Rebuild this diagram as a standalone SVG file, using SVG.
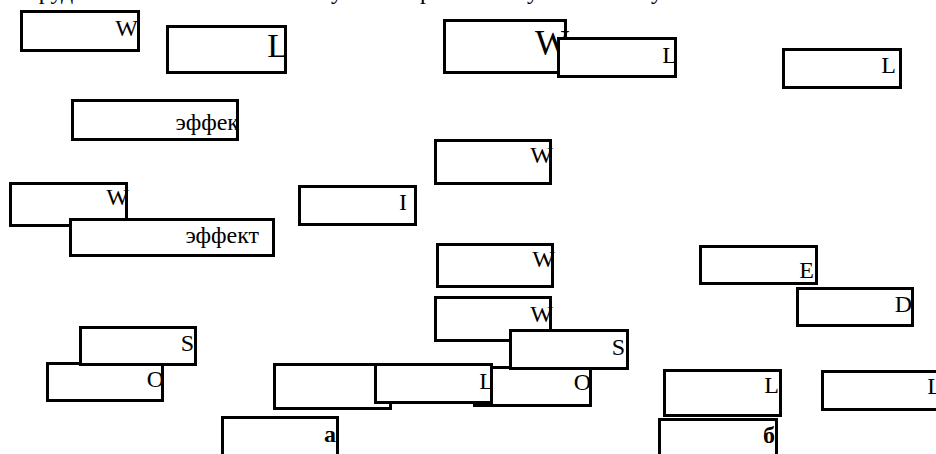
<svg xmlns="http://www.w3.org/2000/svg" width="936" height="454" viewBox="0 0 936 454">
<style>
.b{fill:#fff;stroke:#000;stroke-width:3}
.t{font-family:"Liberation Serif","Times New Roman",serif;font-size:24px;fill:#000;text-anchor:end}
.bold{font-weight:bold}
.top{font-family:"Liberation Serif","Times New Roman",serif;font-size:24px;fill:#000}
</style>
<rect width="936" height="454" fill="#fff"/>
<text class="top" y="-1"><tspan x="28">трудно</tspan><tspan x="331">учесть</tspan><tspan x="420">рост</tspan><tspan x="527">уже</tspan><tspan x="651">успех</tspan></text>
<g id="connectors"></g>
<g id="n1"><rect class="b" x="21.5" y="11.5" width="117" height="39"/><text class="t" x="138" y="36">W</text></g>
<g id="n2"><rect class="b" x="167.5" y="26.5" width="118" height="46"/><text class="t" x="288" y="57" style="font-size:34px">L</text></g>
<g id="n3"><rect class="b" x="444.5" y="20.5" width="121" height="52"/><text class="t" x="569" y="55" style="font-size:36px">W</text></g>
<g id="n4"><rect class="b" x="558.5" y="38.5" width="117" height="38"/><text class="t" x="677" y="63">L</text></g>
<g id="n5"><rect class="b" x="783.5" y="49.5" width="117" height="38"/><text class="t" x="896" y="73">L</text></g>
<g id="n6"><rect class="b" x="72.5" y="100.5" width="165" height="39"/><text class="t" x="239" y="130">эффек</text></g>
<g id="n7"><rect class="b" x="10.5" y="183.5" width="116" height="42"/><text class="t" x="129" y="205">W</text></g>
<g id="n8"><rect class="b" x="70.5" y="219.5" width="203" height="36"/><text class="t" x="259" y="243">эффект</text></g>
<g id="n9"><rect class="b" x="299.5" y="186.5" width="116" height="38"/><text class="t" x="407" y="210">I</text></g>
<g id="n10"><rect class="b" x="435.5" y="140.5" width="115" height="43"/><text class="t" x="553" y="163">W</text></g>
<g id="n11"><rect class="b" x="437.5" y="244.5" width="115" height="42"/><text class="t" x="555" y="267">W</text></g>
<g id="n12"><rect class="b" x="435.5" y="297.5" width="115" height="43"/><text class="t" x="553" y="322">W</text></g>
<g id="n13"><rect class="b" x="700.5" y="246.5" width="116" height="37"/><text class="t" x="814" y="278">E</text></g>
<g id="n14"><rect class="b" x="797.5" y="288.5" width="115" height="37"/><text class="t" x="912" y="312">D</text></g>
<g id="n16"><rect class="b" x="47.5" y="363.5" width="115" height="37"/><text class="t" x="164" y="387">O</text></g>
<g id="n15"><rect class="b" x="80.5" y="327.5" width="115" height="37"/><text class="t" x="194" y="351">S</text></g>
<g id="n17"><rect class="b" x="274.5" y="364.5" width="116" height="44"/></g>
<g id="n19"><rect class="b" x="474.5" y="367.5" width="116" height="38"/><text class="t" x="591" y="390">O</text></g>
<g id="n18"><rect class="b" x="375.5" y="364.5" width="116" height="38"/><text class="t" x="494" y="389">L</text></g>
<g id="n20"><rect class="b" x="510.5" y="330.5" width="117" height="38"/><text class="t" x="625" y="355">S</text></g>
<g id="n21"><rect class="b" x="664.5" y="370.5" width="116" height="45"/><text class="t" x="779" y="393">L</text></g>
<g id="n22"><rect class="b" x="659.5" y="419.5" width="117" height="50"/><text class="t bold" x="775" y="443">б</text></g>
<g id="n23"><rect class="b" x="822.5" y="371.5" width="121" height="38"/><text class="t" x="942" y="394">L</text></g>
<g id="n24"><rect class="b" x="222.5" y="417.5" width="115" height="50"/><text class="t bold" x="336" y="442">а</text></g>
</svg>
